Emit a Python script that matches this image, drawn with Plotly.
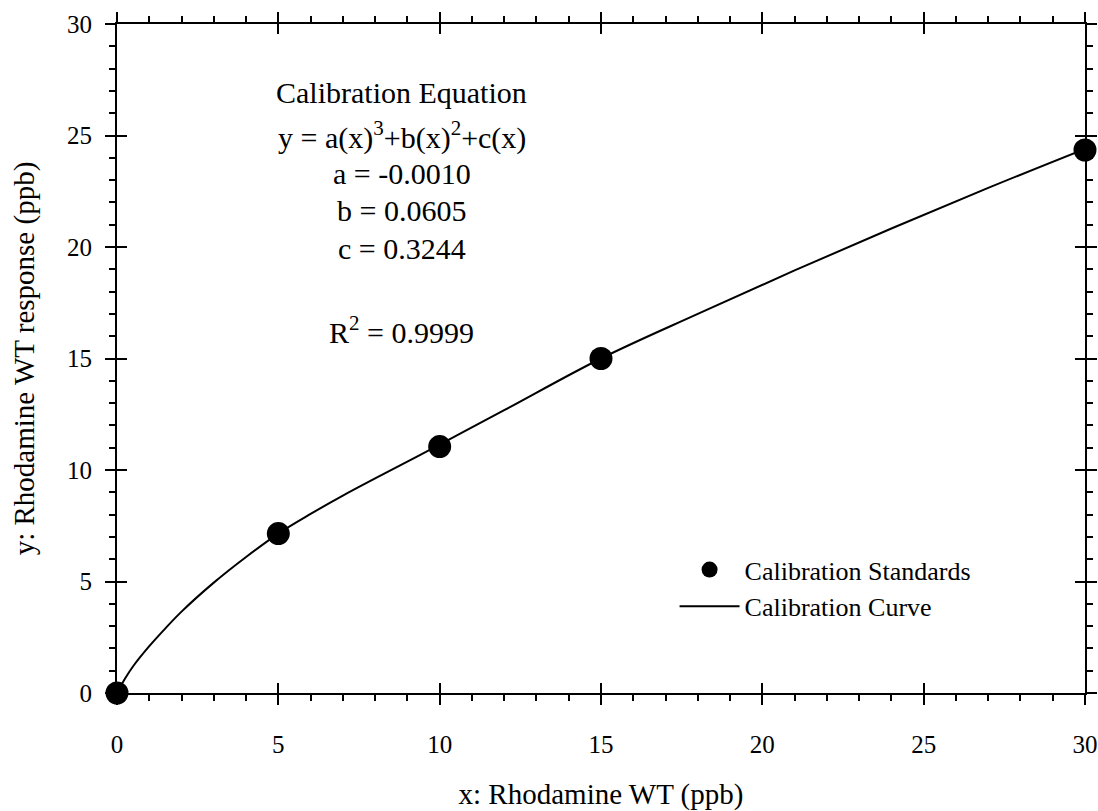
import plotly.graph_objects as go

# Calibration standards (points)
std_x = [0, 5, 10, 15, 30]
std_y = [0, 7.15, 11.05, 15.0, 24.35]

# Calibration curve
curve_x = [0, 0.25, 0.5, 1, 1.5, 2, 3, 4, 5, 6, 7, 8, 10, 12, 15, 18, 21, 24, 27, 30]
curve_y = [0, 0.65, 1.2, 2.1, 2.9, 3.65, 4.95, 6.1, 7.15, 8.03, 8.85, 9.62, 11.14, 12.68, 15.0, 17.0, 18.95, 20.83, 22.65, 24.4]

eq_lines = ["Calibration Equation",
            "y = a(x)<sup>3</sup>+b(x)<sup>2</sup>+c(x)",
            "a = -0.0010",
            "b = 0.0605",
            "c = 0.3244",
            "R<sup>2</sup> = 0.9999"]
eq_y = [26.95, 25.0, 23.3, 21.65, 19.95, 16.3]
eq_x = 8.83

FONT = "Liberation Serif"

fig = go.Figure()
fig.add_trace(go.Scatter(x=std_x, y=std_y, mode="markers", name="Calibration Standards",
                         marker=dict(color="black", size=23), cliponaxis=False))
fig.add_trace(go.Scatter(x=curve_x, y=curve_y, mode="lines", name="Calibration Curve",
                         line=dict(color="black", width=2, shape="spline", smoothing=1),
                         xaxis="x2", yaxis="y2"))

for txt, yy in zip(eq_lines, eq_y):
    fig.add_annotation(x=eq_x, y=yy, xref="x", yref="y", text=txt, showarrow=False,
                       xanchor="center", yanchor="middle",
                       font=dict(family=FONT, size=30, color="black"))

axis_common = dict(range=[0, 30], dtick=5, showgrid=False, zeroline=False, automargin=False,
                   showline=True, linecolor="black", linewidth=2, mirror="ticks")

fig.update_layout(
    width=1098, height=811,
    margin=dict(l=117, r=13, t=24, b=118),
    paper_bgcolor="white", plot_bgcolor="white",
    font=dict(family=FONT, color="black"),
    xaxis=dict(**axis_common, ticks="outside", ticklen=10, tickwidth=2, tickcolor="black",
               tickfont=dict(family=FONT, size=25), ticklabelstandoff=18,
               minor=dict(dtick=1, ticks="outside", ticklen=6, tickwidth=1.5, tickcolor="black", showgrid=False),
               title=dict(text="x: Rhodamine WT (ppb)", font=dict(family=FONT, size=29), standoff=30)),
    yaxis=dict(**axis_common, ticks="outside", ticklen=10, tickwidth=2, tickcolor="black",
               tickfont=dict(family=FONT, size=25), ticklabelstandoff=8,
               minor=dict(dtick=1, ticks="outside", ticklen=6, tickwidth=1.5, tickcolor="black", showgrid=False),
               title=dict(text="y: Rhodamine WT response (ppb)", font=dict(family=FONT, size=29), standoff=24)),
    xaxis2=dict(**axis_common, overlaying="x", side="bottom", ticks="inside", ticklen=10, tickwidth=2,
                tickcolor="black", showticklabels=False),
    yaxis2=dict(**axis_common, overlaying="y", side="left", ticks="inside", ticklen=10, tickwidth=2,
                tickcolor="black", showticklabels=False),
    legend=dict(x=0.576, y=0.2195, xanchor="left", yanchor="top", bgcolor="rgba(0,0,0,0)",
                font=dict(family=FONT, size=26), itemwidth=60),
    showlegend=True,
)

fig.write_html("out.html")
